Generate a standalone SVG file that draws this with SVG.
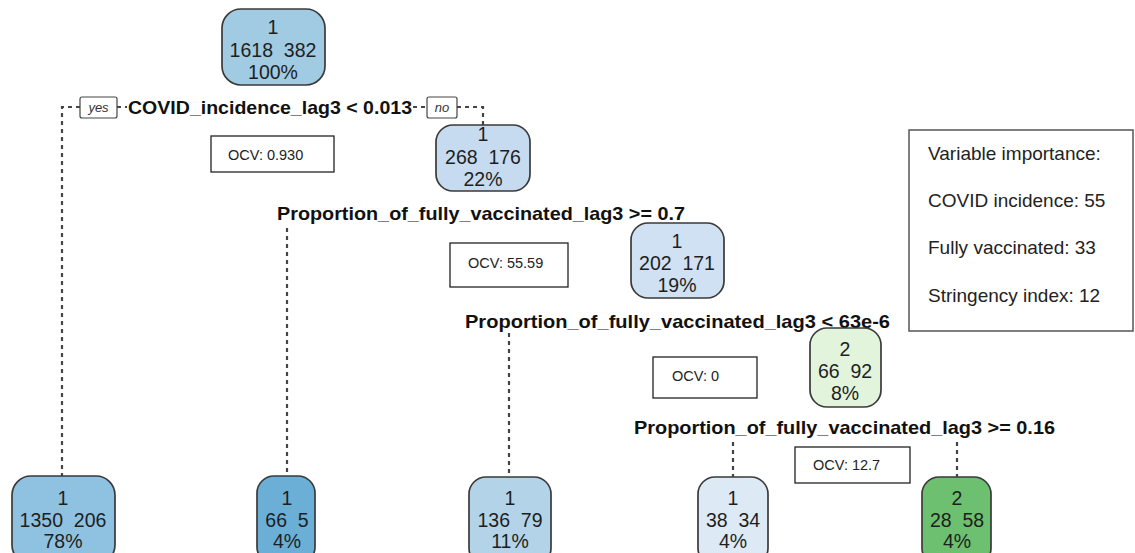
<svg xmlns="http://www.w3.org/2000/svg" width="1135" height="553" viewBox="0 0 1135 553">
<style>
.bg{fill:#ffffff}
.node rect{stroke:#3a3a3a;stroke-width:1.7}
.node text{font-family:"Liberation Sans",Arial,sans-serif;font-size:19.5px;fill:#1e1e1e;text-anchor:middle}
.split{font-family:"Liberation Sans",Arial,sans-serif;font-size:19px;font-weight:bold;fill:#111}
.conn path{fill:none;stroke:#454545;stroke-width:2.2;stroke-dasharray:4 4}
.yn rect{fill:#fff;stroke:#444;stroke-width:1.2}
.yn text{font-family:"Liberation Sans",Arial,sans-serif;font-size:13px;font-style:italic;fill:#333;text-anchor:middle}
.ocv rect{fill:#fff;stroke:#222;stroke-width:1.3}
.ocv text{font-family:"Liberation Sans",Arial,sans-serif;font-size:14.5px;fill:#222}
.imp rect{fill:#fff;stroke:#555;stroke-width:1.5}
.imp text{font-family:"Liberation Sans",Arial,sans-serif;font-size:19px;fill:#222}
</style>
<rect class="bg" x="0" y="0" width="1135" height="553"/>

<g id="connectors" class="conn">
<path d="M80,107 H62 V476"/>
<path d="M117,107 H127"/>
<path d="M413,107 H427"/>
<path d="M457,107 H483 V125"/>
<path d="M287,228 V476"/>
<path d="M509,333 V477"/>
<path d="M733,442 V477"/>
<path d="M957,442 V477"/>
</g>

<g id="node-root" class="node">
<rect x="222" y="9" width="103" height="76" rx="19" fill="#a0cbe2"/>
<text x="273" y="34">1</text>
<text x="273" y="57">1618&#160;&#160;382</text>
<text x="273" y="79">100%</text>
</g>

<g id="split-1">
<text class="split" x="128" y="114" textLength="284" lengthAdjust="spacingAndGlyphs">COVID_incidence_lag3 &lt; 0.013</text>
<g class="yn">
<rect x="80" y="97" width="37" height="21" rx="2"/>
<text x="98.5" y="112">yes</text>
<rect x="427" y="97" width="30" height="21" rx="2"/>
<text x="442" y="112">no</text>
</g>
</g>

<g id="node-2" class="node">
<rect x="436" y="125" width="94" height="66" rx="17" fill="#c6dbef"/>
<text x="483" y="141">1</text>
<text x="483" y="164">268&#160;&#160;176</text>
<text x="483" y="186">22%</text>
</g>

<g id="split-2">
<text class="split" x="277" y="220" textLength="408" lengthAdjust="spacingAndGlyphs">Proportion_of_fully_vaccinated_lag3 &gt;= 0.7</text>
</g>

<g id="node-3" class="node">
<rect x="631" y="223" width="93" height="75" rx="17" fill="#cfe1f2"/>
<text x="677" y="248">1</text>
<text x="677" y="270">202&#160;&#160;171</text>
<text x="677" y="292">19%</text>
</g>

<g id="split-3">
<text class="split" x="465" y="328" textLength="425" lengthAdjust="spacingAndGlyphs">Proportion_of_fully_vaccinated_lag3 &lt; 63e-6</text>
</g>

<g id="node-4" class="node">
<rect x="810" y="328" width="71" height="79" rx="17" fill="#e3f4dd"/>
<text x="845" y="356">2</text>
<text x="845" y="378">66&#160;&#160;92</text>
<text x="845" y="400">8%</text>
</g>

<g id="split-4">
<text class="split" x="634" y="434" textLength="421" lengthAdjust="spacingAndGlyphs">Proportion_of_fully_vaccinated_lag3 &gt;= 0.16</text>
</g>

<g id="leaf-1" class="node">
<rect x="12" y="476" width="103" height="88" rx="19" fill="#8fc1e0"/>
<text x="63" y="505">1</text>
<text x="63" y="527">1350&#160;&#160;206</text>
<text x="63" y="548">78%</text>
</g>

<g id="leaf-2" class="node">
<rect x="257" y="476" width="58" height="88" rx="17" fill="#6baed6"/>
<text x="287" y="505">1</text>
<text x="287" y="527">66&#160;&#160;5</text>
<text x="287" y="548">4%</text>
</g>

<g id="leaf-3" class="node">
<rect x="469" y="477" width="82" height="88" rx="17" fill="#b3d3e9"/>
<text x="510" y="505">1</text>
<text x="510" y="527">136&#160;&#160;79</text>
<text x="510" y="548">11%</text>
</g>

<g id="leaf-4" class="node">
<rect x="698" y="477" width="70" height="88" rx="17" fill="#dde9f5"/>
<text x="733" y="505">1</text>
<text x="733" y="527">38&#160;&#160;34</text>
<text x="733" y="548">4%</text>
</g>

<g id="leaf-5" class="node">
<rect x="922" y="477" width="69" height="88" rx="17" fill="#6cc070"/>
<text x="957" y="505">2</text>
<text x="957" y="527">28&#160;&#160;58</text>
<text x="957" y="548">4%</text>
</g>

<g id="ocv-1" class="ocv">
<rect x="211" y="136" width="123" height="36"/>
<text x="228" y="160">OCV: 0.930</text>
</g>
<g id="ocv-2" class="ocv">
<rect x="450" y="243" width="118" height="44"/>
<text x="468" y="268">OCV: 55.59</text>
</g>
<g id="ocv-3" class="ocv">
<rect x="653" y="357" width="104" height="41"/>
<text x="672" y="381">OCV: 0</text>
</g>
<g id="ocv-4" class="ocv">
<rect x="795" y="447" width="115" height="36"/>
<text x="813" y="470">OCV: 12.7</text>
</g>

<g id="importance" class="imp">
<rect x="909" y="130" width="224" height="201"/>
<text x="928" y="160">Variable importance:</text>
<text x="928" y="207">COVID incidence: 55</text>
<text x="928" y="254">Fully vaccinated: 33</text>
<text x="928" y="302">Stringency index: 12</text>
</g>
</svg>
